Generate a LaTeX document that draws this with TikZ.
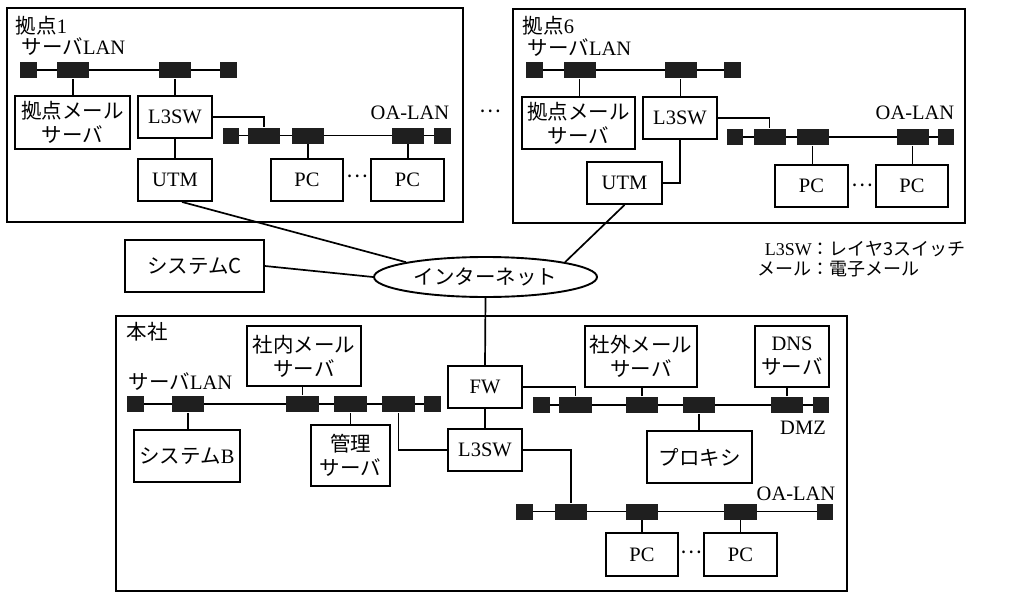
\documentclass[tikz,border=0pt]{standalone}
\usepackage{fontspec}
\setmainfont{Liberation Serif}
\newfontfamily\jp{Noto Sans CJK JP}
\newcommand\J[1]{{\jp #1}}
\usetikzlibrary{shapes.geometric}
\begin{document}
\begin{tikzpicture}[x=1pt,y=-1pt,
  line width=1.7pt,
  every node/.style={font=\fontsize{20.5}{24}\selectfont, inner sep=0pt},
  box/.style={draw, line width=1.9pt, align=center},
  frame/.style={draw, line width=2.1pt},
  sp/.style={fill=black!88, minimum width=17pt, minimum height=16pt},
  bp/.style={fill=black!88, minimum width=32pt, minimum height=16pt},
  dots/.style={yshift=5pt},
  lbl/.style={anchor=west, text height=14pt, text depth=2pt}]
\useasboundingbox (0,0) rectangle (1019,594);

% ---------- 拠点1 ----------
\draw[frame] (7,8) rectangle (463,222);
\node[lbl] (t1) at (15,28) {\J{拠点}1};
\node[lbl] (sl1) at (21,49) {\J{サーバ}LAN};
\draw (28.5,70) -- (228,70);
\node[sp] (s1a) at (28.5,70) {};
\node[bp] (s1b) at (73,70) {};
\node[bp] (s1c) at (175,70) {};
\node[sp] (s1d) at (228,70) {};
\node[box, minimum width=115pt, minimum height=53pt] (mail1) at (72.5,122.5) {\J{拠点メール}\\\J{サーバ}};
\node[box, minimum width=74pt, minimum height=42pt] (l3sw1) at (175,117) {L3SW};
\node[box, minimum width=74pt, minimum height=42pt] (utm1) at (175,180) {UTM};
\draw (230.5,135.5) -- (442.5,135.5);
\node[sp, minimum width=16pt] (o1a) at (230.5,135.5) {};
\node[bp] (o1b) at (264,135.5) {};
\node[bp] (o1c) at (308,135.5) {};
\node[bp] (o1d) at (408,135.5) {};
\node[sp] (o1e) at (442.5,135.5) {};
\node (oa1) at (410,113) {OA-LAN};
\node[box, minimum width=72pt, minimum height=42pt] (pc1a) at (307,180) {PC};
\node[box, minimum width=73pt, minimum height=42pt] (pc1b) at (407.5,180) {PC};
\node[dots] (d1) at (357.5,181) {\J{…}};
\node[dots] (dr) at (490,116) {\J{…}};
\draw (s1b.south) -- (s1b.south |- mail1.north);
\draw (s1c.south) -- (s1c.south |- l3sw1.north);
\draw (l3sw1.south) -- (utm1.north);
\draw (l3sw1.east) -| (o1b.north);
\draw (o1c.south) -- (o1c.south |- pc1a.north);
\draw (o1d.south) -- (o1d.south |- pc1b.north);

% ---------- 拠点6 ----------
\draw[frame] (513,9) rectangle (965,223);
\node[lbl] (t6) at (522,28) {\J{拠点}6};
\node[lbl] (sl6) at (527,50) {\J{サーバ}LAN};
\draw (534.5,70) -- (732.5,70);
\node[sp] (s6a) at (534.5,70) {};
\node[bp] (s6b) at (579.5,70) {};
\node[bp] (s6c) at (680.5,70) {};
\node[sp] (s6d) at (732.5,70) {};
\node[box, minimum width=113pt, minimum height=52pt] (mail6) at (578.5,123) {\J{拠点メール}\\\J{サーバ}};
\node[box, minimum width=74pt, minimum height=42pt] (l3sw6) at (680,118) {L3SW};
\node[box, minimum width=75pt, minimum height=42pt] (utm6) at (624.5,183) {UTM};
\draw (735,137) -- (946,137);
\node[sp, minimum width=16pt] (o6a) at (735,137) {};
\node[bp] (o6b) at (769.5,137) {};
\node[bp] (o6c) at (812.5,137) {};
\node[bp] (o6d) at (912.5,137) {};
\node[sp, minimum width=16pt] (o6e) at (946,137) {};
\node (oa6) at (915,113) {OA-LAN};
\node[box, minimum width=73pt, minimum height=42pt] (pc6a) at (811.5,186) {PC};
\node[box, minimum width=72pt, minimum height=42pt] (pc6b) at (912,186) {PC};
\node[dots] (d6) at (862,190) {\J{…}};
\draw (s6b.south) -- (s6b.south |- mail6.north);
\draw (s6c.south) -- (s6c.south |- l3sw6.north);
\draw (l3sw6.south) |- (utm6.east);
\draw (l3sw6.east) -| (o6b.north);
\draw (o6c.south) -- (o6c.south |- pc6a.north);
\draw (o6d.south) -- (o6d.south |- pc6b.north);

% ---------- middle ----------
\node[box, minimum width=139pt, minimum height=52pt] (sysC) at (194.5,266) {\J{システムC}};
\node[draw, ellipse, line width=1.9pt, minimum width=223pt, minimum height=40pt] (inet) at (485.5,277) {\J{インターネット}};
\draw (sysC.east) -- (inet.west);
\draw ([xshift=7pt]utm1.south) -- (inet.north west);
\draw (utm6.south) -- (inet.north east);
\node[anchor=west, font=\fontsize{18}{19}\selectfont] (legend) at (757,261)
  {\begin{tabular}{@{}r@{}l@{}}L3SW&\J{：レイヤ3スイッチ}\\\J{メール}&\J{：電子メール}\end{tabular}};

% ---------- 本社 ----------
\draw[frame] (116,316) rectangle (847,591);
\node[lbl] (th) at (126,333) {\J{本社}};
\node[lbl] (slh) at (128,383) {\J{サーバ}LAN};
\node[box, minimum width=114pt, minimum height=60pt] (inmail) at (304,356) {\J{社内メール}\\\J{サーバ}};
\draw (135,404) -- (432.5,404);
\node[sp] (ha) at (135,404) {};
\node[bp] (hb) at (188,404) {};
\node[bp, minimum width=33pt] (hc) at (302.5,404) {};
\node[bp, minimum width=33pt] (hd) at (350.5,404) {};
\node[bp, minimum width=33pt] (he) at (398.5,404) {};
\node[sp] (hf) at (432.5,404) {};
\node[box, minimum width=106pt, minimum height=52pt] (sysB) at (187,456) {\J{システム}B};
\node[box, minimum width=79pt, minimum height=61pt] (kanri) at (350.5,455.5) {\J{管理}\\\J{サーバ}};
\node[box, minimum width=74pt, minimum height=42pt] (fw) at (485,387) {FW};
\node[box, minimum width=74pt, minimum height=42pt] (l3swh) at (485,450) {L3SW};
\draw (inet.south) -- (fw.north);
\draw (fw.south) -- (l3swh.north);
\draw (hb.south) -- (hb.south |- sysB.north);
\draw (hc.north) -- (hc.north |- inmail.south);
\draw (hd.south) -- (hd.south |- kanri.north);
\draw (he.south) |- (l3swh.west);

% DMZ
\draw (541.5,405) -- (821,405);
\node[sp] (da) at (541.5,405) {};
\node[bp, minimum width=33pt] (db) at (575.5,405) {};
\node[bp] (dc) at (642,405) {};
\node[bp] (dd) at (699,405) {};
\node[bp] (de) at (787,405) {};
\node[sp, minimum width=16pt] (df) at (821,405) {};
\node[box, minimum width=112pt, minimum height=61pt] (outmail) at (641,356.5) {\J{社外メール}\\\J{サーバ}};
\node[box, minimum width=74pt, minimum height=61pt] (dns) at (792,356.5) {DNS\\\J{サーバ}};
\node (dmz) at (803,428) {DMZ};
\node[box, minimum width=105pt, minimum height=52pt] (proxy) at (699.5,457) {\J{プロキシ}};
\draw (fw.east) -| (db.north);
\draw (dc.north) -- (dc.north |- outmail.south);
\draw (de.north) -- (de.north |- dns.south);
\draw (dd.south) -- (dd.south |- proxy.north);

% OA-LAN (本社)
\draw (524.5,511.5) -- (825,511.5);
\node[sp] (oa) at (524.5,511.5) {};
\node[bp] (ob) at (571,511.5) {};
\node[bp] (oc) at (642,511.5) {};
\node[bp, minimum width=33pt] (od) at (740.5,511.5) {};
\node[sp, minimum width=16pt] (oe) at (825,511.5) {};
\node (oah) at (796,494) {OA-LAN};
\node[box, minimum width=72pt, minimum height=43pt] (pcha) at (642,554.5) {PC};
\node[box, minimum width=73pt, minimum height=43pt] (pchb) at (740.5,554.5) {PC};
\node[dots] (dh) at (691,557) {\J{…}};
\draw (l3swh.east) -| (ob.north);
\draw (oc.south) -- (oc.south |- pcha.north);
\draw (od.south) -- (od.south |- pchb.north);
\end{tikzpicture}
\end{document}
